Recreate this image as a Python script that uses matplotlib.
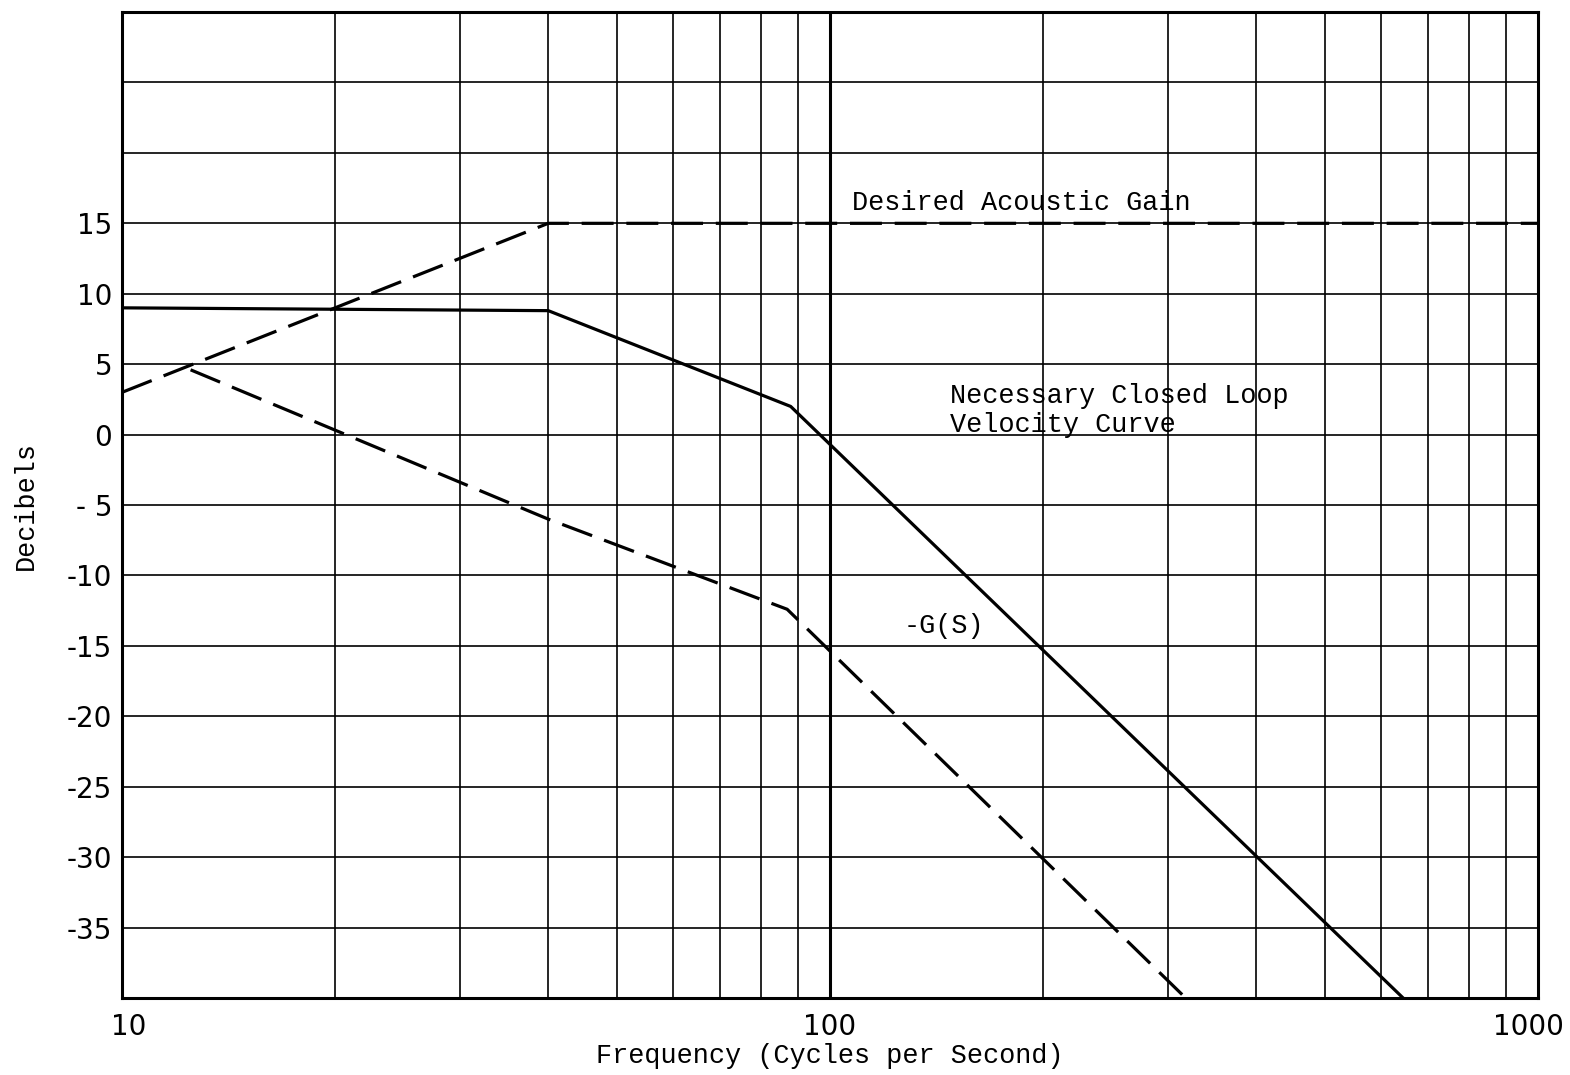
import numpy as np
import matplotlib.pyplot as plt
from matplotlib.ticker import FixedLocator, NullFormatter
from matplotlib.transforms import ScaledTranslation

# ------------------ DATA ------------------

# Desired acoustic gain (dB vs cps)
desired_freq = [10, 40, 1000]
desired_db = [3, 15, 15]

# Necessary closed loop velocity curve
closed_freq = [10, 40, 88, 645]
closed_db = [9, 8.8, 2, -40]

# -G(S)
gs_freq = [12.5, 40, 87, 318]
gs_db = [4.6, -6, -12.4, -40]

ytick_vals = [15, 10, 5, 0, -5, -10, -15, -20, -25, -30, -35]
ytick_labels = ["15", "10", "5", "0", "- 5", "-10", "-15", "-20", "-25", "-30", "-35"]
xtick_vals = [10, 100, 1000]
xtick_labels = ["10", "100", "1000"]

TYPE = "Liberation Mono"
LETTER = "DejaVu Sans"
TSIZE = 19.4

# ------------------ CHART ------------------

fig = plt.figure(figsize=(15.7, 10.75), dpi=100)
ax = fig.add_axes([0.0777, 0.0716, 0.9019, 0.9172])

ax.set_xscale("log")
ax.set_xlim(10, 1000)
ax.set_ylim(-40, 30)

# graph paper grid
minor_x = [m * d for d in (10, 100) for m in range(2, 10)]
for f in minor_x:
    ax.axvline(f, color="black", lw=1.2, zorder=1)
ax.axvline(100, color="black", lw=2.2, zorder=1)
for y in np.arange(-35, 30, 5):
    ax.axhline(y, color="black", lw=1.2, zorder=1)

ax.plot(desired_freq, desired_db, color="black", lw=2.3,
        dashes=(10, 4), zorder=3)
ax.plot(closed_freq, closed_db, color="black", lw=2.3, zorder=3)
ax.plot(gs_freq, gs_db, color="black", lw=2.3, dashes=(10, 4), zorder=3)

ax.text(107.4, 15.95, "Desired Acoustic Gain", family=TYPE, fontsize=TSIZE,
        va="baseline", ha="left")
ax.text(147.7, 2.25, "Necessary Closed Loop", family=TYPE, fontsize=TSIZE,
        va="baseline", ha="left")
ax.text(147.7, 0.2, "Velocity Curve", family=TYPE, fontsize=TSIZE,
        va="baseline", ha="left")
ax.text(127, -14.1, "-G(S)", family=TYPE, fontsize=TSIZE,
        va="baseline", ha="left")

ax.xaxis.set_major_locator(FixedLocator(xtick_vals))
ax.xaxis.set_minor_locator(FixedLocator(minor_x))
ax.xaxis.set_minor_formatter(NullFormatter())
ax.set_xticklabels(xtick_labels, fontfamily=LETTER, fontsize=20)
ax.set_yticks(ytick_vals)
ax.set_yticklabels(ytick_labels, fontfamily=LETTER, fontsize=20)
ax.tick_params(axis="both", which="both", length=0)
ax.tick_params(axis="y", pad=7)
ax.tick_params(axis="x", pad=11)

# nudge the end labels inward so they sit inside the page
xlabels = ax.get_xticklabels()
xlabels[0].set_transform(xlabels[0].get_transform()
                         + ScaledTranslation(0.07, 0, fig.dpi_scale_trans))
xlabels[-1].set_transform(xlabels[-1].get_transform()
                          + ScaledTranslation(-0.10, 0, fig.dpi_scale_trans))

ax.set_xlabel("Frequency (Cycles per Second)", family=TYPE, fontsize=TSIZE,
              labelpad=1)
ax.set_ylabel("Decibels", family=TYPE, fontsize=TSIZE, labelpad=20)

for side in ax.spines.values():
    side.set_linewidth(2.2)
    side.set_zorder(4)

fig.savefig("out.png", dpi=100)
plt.close(fig)
